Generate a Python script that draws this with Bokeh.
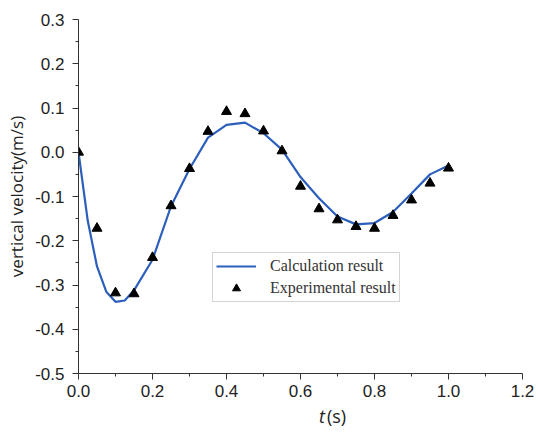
from bokeh.plotting import figure
from bokeh.models import Range1d, FixedTicker, Legend, LegendItem, Div
from bokeh.layouts import column
from bokeh.embed import file_html
from bokeh.resources import INLINE

# Calculation result (line)
t_calc = [0.0, 0.025, 0.05, 0.075, 0.1, 0.125, 0.15, 0.2, 0.25, 0.3, 0.35, 0.4, 0.45,
          0.5, 0.55, 0.6, 0.65, 0.7, 0.75, 0.8, 0.85, 0.9, 0.95, 1.0]
v_calc = [0.0, -0.155, -0.258, -0.315, -0.338, -0.335, -0.312, -0.243, -0.122, -0.038,
          0.033, 0.062, 0.067, 0.043, 0.006, -0.056, -0.104, -0.145, -0.163, -0.16,
          -0.135, -0.093, -0.05, -0.03]

# Experimental result (triangles)
t_exp = [0.0, 0.05, 0.1, 0.15, 0.2, 0.25, 0.3, 0.35, 0.4, 0.45, 0.5, 0.55, 0.6, 0.65,
         0.7, 0.75, 0.8, 0.85, 0.9, 0.95, 1.0]
v_exp = [0.0, -0.172, -0.318, -0.32, -0.238, -0.121, -0.037, 0.047, 0.092, 0.087, 0.048,
         0.003, -0.077, -0.128, -0.153, -0.168, -0.172, -0.143, -0.108, -0.07, -0.036]

x_ticks = [0.0, 0.2, 0.4, 0.6, 0.8, 1.0, 1.2]
x_tick_labels = ["0.0", "0.2", "0.4", "0.6", "0.8", "1.0", "1.2"]
x_minor = [0.1, 0.3, 0.5, 0.7, 0.9, 1.1]
y_ticks = [-0.5, -0.4, -0.3, -0.2, -0.1, 0.0, 0.1, 0.2, 0.3]
y_tick_labels = ["-0.5", "-0.4", "-0.3", "-0.2", "-0.1", "0.0", "0.1", "0.2", "0.3"]
y_minor = [-0.45, -0.35, -0.25, -0.15, -0.05, 0.05, 0.15, 0.25]

p = figure(width=538, height=403, output_backend="svg", toolbar_location=None,
           x_range=Range1d(0, 1.2), y_range=Range1d(-0.5, 0.3),
           min_border_left=78, min_border_right=16, min_border_top=19, min_border_bottom=30,
           margin=(0, 0, 0, 0))
p.outline_line_color = None
p.xgrid.visible = False
p.ygrid.visible = False
p.background_fill_color = "white"
p.border_fill_color = "white"

axcol = "#333333"
for ax, ticks, labels, minor in ((p.xaxis[0], x_ticks, x_tick_labels, x_minor),
                                 (p.yaxis[0], y_ticks, y_tick_labels, y_minor)):
    ax.ticker = FixedTicker(ticks=ticks, minor_ticks=minor)
    ax.major_label_overrides = {t: l for t, l in zip(ticks, labels)}
    ax.axis_line_color = axcol
    ax.major_tick_line_color = axcol
    ax.minor_tick_line_color = axcol
    ax.major_tick_out = 6
    ax.major_tick_in = 0
    ax.minor_tick_out = 3
    ax.minor_tick_in = 0
    ax.major_label_text_font = "Liberation Sans"
    ax.major_label_text_font_size = "17px"
    ax.major_label_text_color = "#222222"
p.xaxis.major_label_standoff = 5
p.yaxis.major_label_standoff = 8

p.yaxis.axis_label = "vertical velocity(m/s)"
p.yaxis.axis_label_text_font = "Open Sans"
p.yaxis.axis_label_text_font_style = "normal"
p.yaxis.axis_label_text_font_size = "17px"
p.yaxis.axis_label_text_color = "#222222"
p.yaxis.axis_label_standoff = 4

line = p.line(t_calc, v_calc, line_color="#2c5fbb", line_width=2.2)
pts = p.scatter(t_exp, v_exp, marker="triangle", size=10, fill_color="black",
                line_color="black")

legend = Legend(items=[LegendItem(label="Calculation result", renderers=[line]),
                       LegendItem(label="Experimental result", renderers=[pts])],
                location=(134, 71), padding=3, spacing=2, margin=0,
                glyph_width=40, glyph_height=20, label_height=20, label_standoff=14,
                label_text_font="Liberation Serif", label_text_font_size="16px",
                label_text_color="#333333", border_line_color="#aaaaaa",
                background_fill_alpha=1.0)
p.add_layout(legend)

xtitle = Div(text='<i>t</i><span style="padding-left:2px">(s)</span>',
             width=538, height=29, margin=(0, 0, 0, 0),
             styles={"padding-left": "319px", "font-family": "Open Sans",
                     "font-size": "18px", "color": "#222222", "line-height": "24px",
                     "padding-top": "1px"})

layout = column(p, xtitle, spacing=0)
open("out.html", "w").write(file_html(layout, INLINE))
